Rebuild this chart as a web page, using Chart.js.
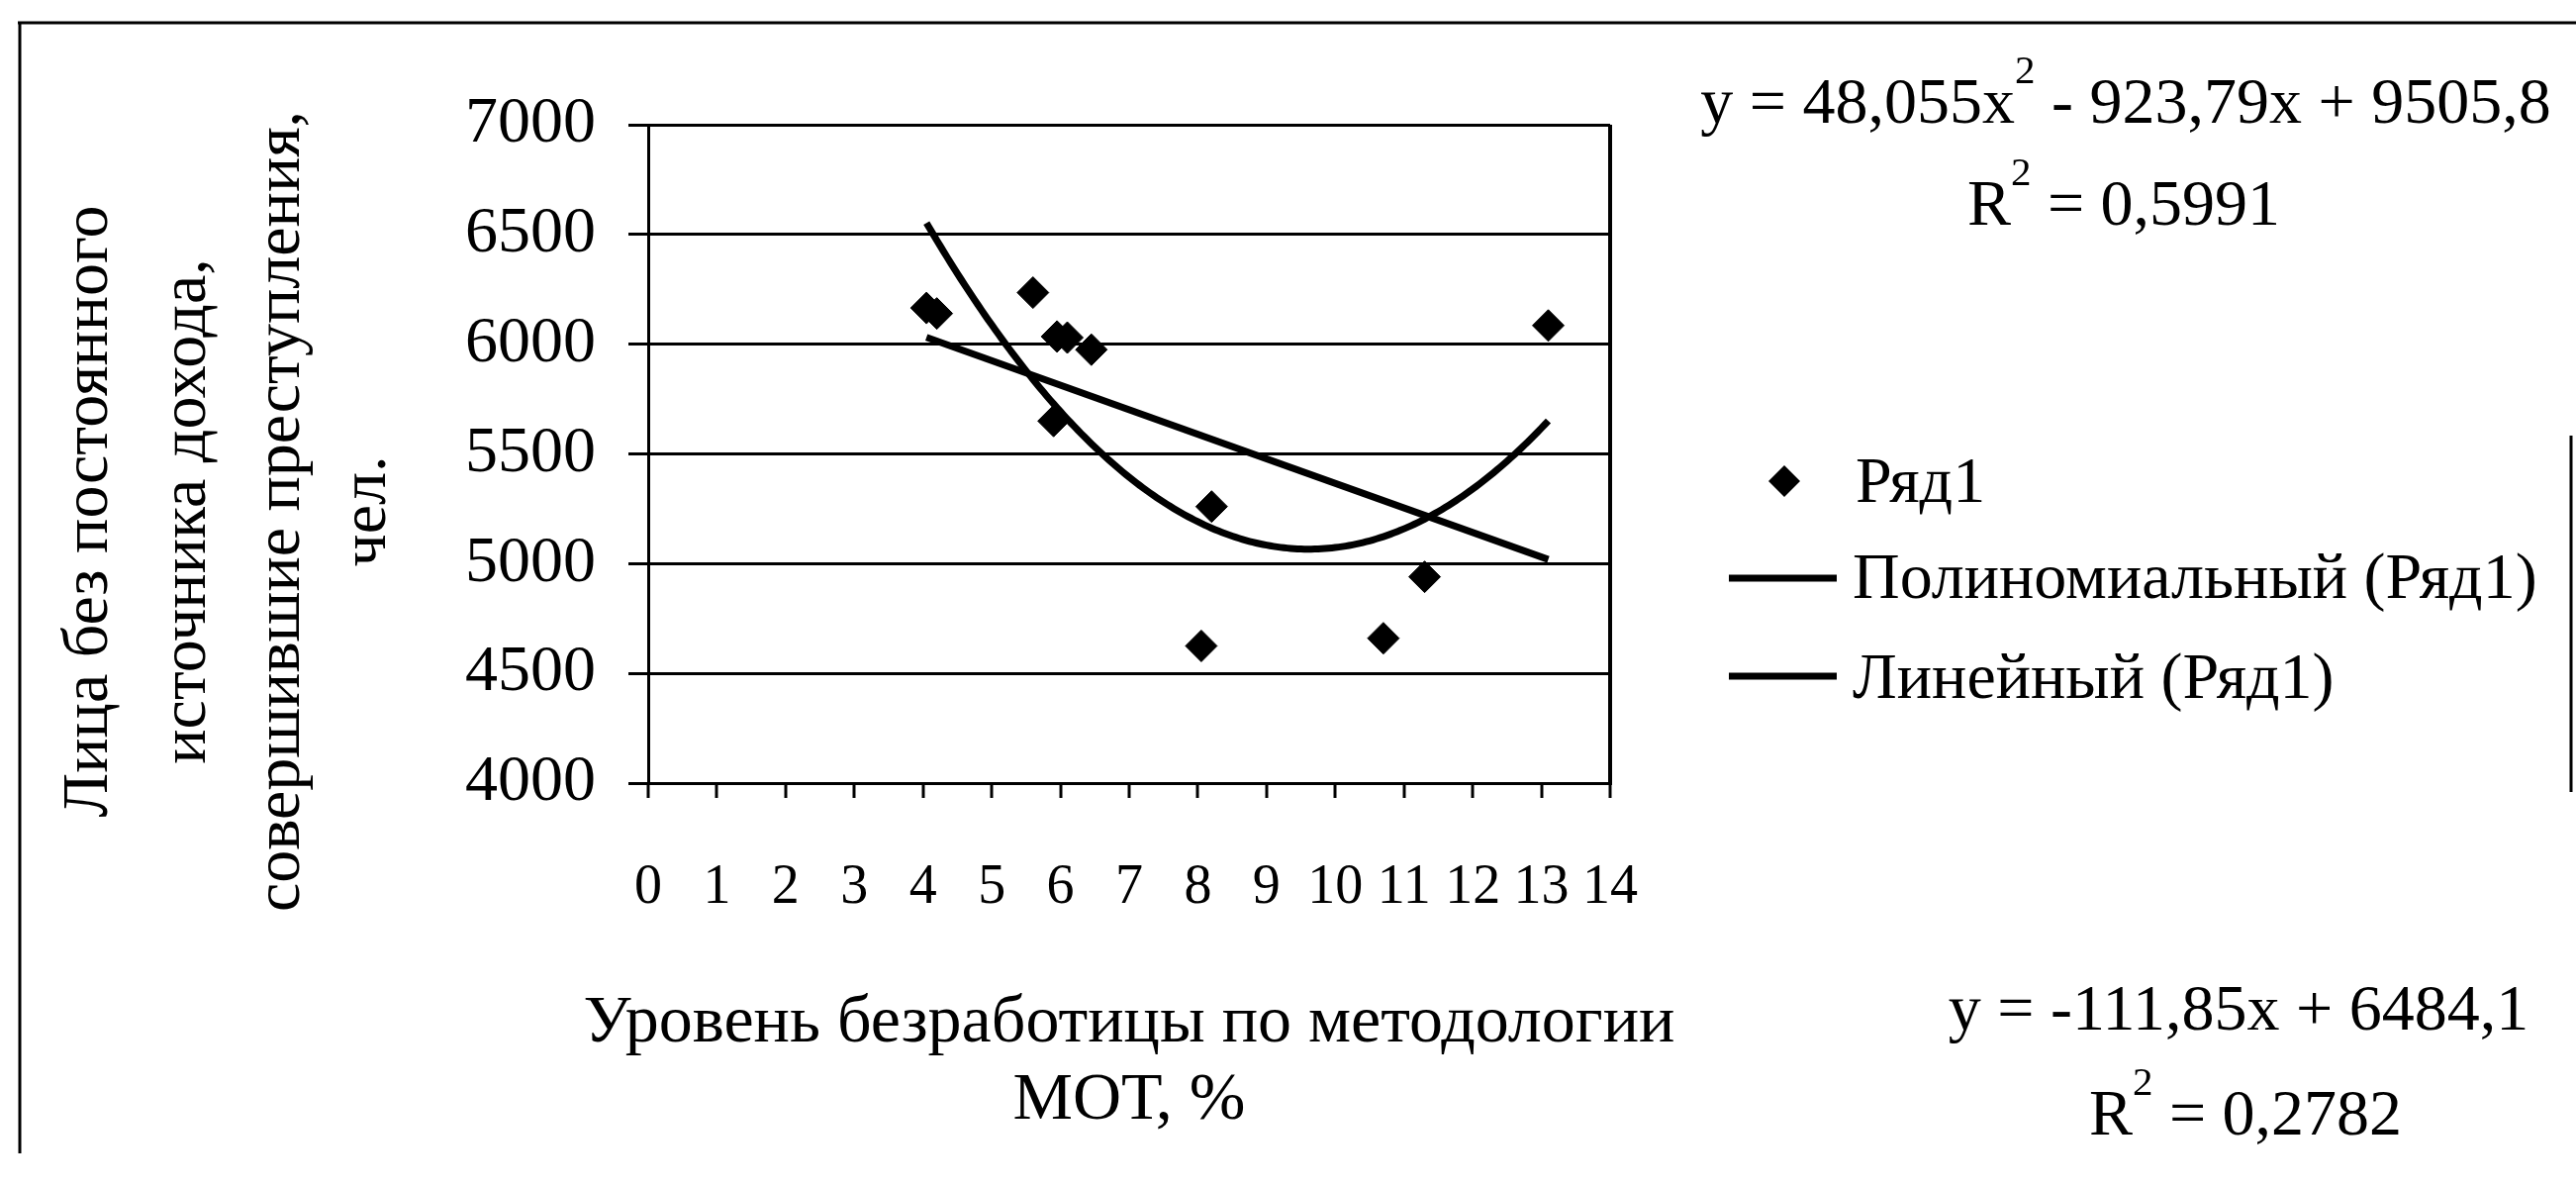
<!DOCTYPE html>
<html>
<head>
<meta charset="utf-8">
<script src="https://cdn.jsdelivr.net/npm/chart.js@4.4.1/dist/chart.umd.min.js"></script>
<style>
    html, body { margin: 0; padding: 0; background: #fff; }
</style>
</head>
<body>
<canvas id="chart" width="2603" height="1200"></canvas>
<script>
// observed points (unemployment %, persons)
const xValues = [4.05, 4.2, 5.6, 5.95, 6.1, 6.45, 5.9, 8.2, 8.05, 10.7, 11.3, 13.1];
const yValues = [6165, 6140, 6235, 6035, 6030, 5975, 5650, 5260, 4625, 4660, 4940, 6085];

// trendline equations as printed on the chart
const polyCoef = [48.055, -923.79, 9505.8];
const linCoef = [-111.85, 6484.1];
const rSquared = [0.5991, 0.2782];

const xTicks = [0, 1, 2, 3, 4, 5, 6, 7, 8, 9, 10, 11, 12, 13, 14];
const yTicks = [4000, 4500, 5000, 5500, 6000, 6500, 7000];

const legendLabels = ['Ряд1', 'Полиномиальный (Ряд1)', 'Линейный (Ряд1)'];
const yTitleLines = ['Лица без постоянного', 'источника дохода,', 'совершившие преступления,', 'чел.'];
const xTitleLines = ['Уровень безработицы по методологии', 'МОТ, %'];

const FONT = '"Liberation Serif", "Times New Roman", serif';
const fmt = (v) => String(v).replace('.', ',');

const xMin = Math.min(...xValues);
const xMax = Math.max(...xValues);

const points = xValues.map((x, i) => ({ x: x, y: yValues[i] }));

// trendlines drawn over the data range, as Excel does
const polyLine = [];
for (let x = xMin; x <= xMax + 1e-9; x += 0.05) {
    polyLine.push({ x: x, y: polyCoef[0] * x * x + polyCoef[1] * x + polyCoef[2] });
}
const linLine = [xMin, xMax].map((x) => ({ x: x, y: linCoef[0] * x + linCoef[1] }));

const drawRich = (ctx, parts, cx, baseline, size) => {
    let total = 0;
    parts.forEach((p) => {
        ctx.font = (p.sup ? Math.round(size * 0.62) : size) + 'px ' + FONT;
        p.w = ctx.measureText(p.t).width;
        total += p.w;
    });
    let x = cx - total / 2;
    parts.forEach((p) => {
        ctx.font = (p.sup ? Math.round(size * 0.62) : size) + 'px ' + FONT;
        ctx.fillText(p.t, x, p.sup ? baseline - size * 0.6 : baseline);
        x += p.w;
    });
};

const extras = {
    id: 'extras',
    afterDraw(chart) {
        const ctx = chart.ctx;
        const area = chart.chartArea;
        ctx.save();
        ctx.fillStyle = '#000';
        ctx.strokeStyle = '#000';

        // outer frame
        ctx.lineWidth = 3;
        ctx.beginPath();
        ctx.moveTo(18, 23); ctx.lineTo(2603, 23);
        ctx.moveTo(20, 23); ctx.lineTo(20, 1165);
        ctx.moveTo(2598, 440); ctx.lineTo(2598, 800);
        ctx.stroke();

        // y title
        ctx.save();
        ctx.translate(0, (area.top + area.bottom) / 2 + 58);
        ctx.rotate(-Math.PI / 2);
        ctx.font = '66px ' + FONT;
        ctx.textAlign = 'center';
        ctx.textBaseline = 'middle';
        const yCols = [91, 190, 285, 372];
        yTitleLines.forEach((t, i) => ctx.fillText(t, 0, yCols[i]));
        ctx.restore();

        // x title
        ctx.font = '68px ' + FONT;
        ctx.textAlign = 'center';
        ctx.textBaseline = 'alphabetic';
        const xMid = (area.left + area.right) / 2;
        ctx.fillText(xTitleLines[0], xMid, 1052);
        ctx.fillText(xTitleLines[1], xMid, 1130);

        // equations
        ctx.textAlign = 'left';
        drawRich(ctx, [
            { t: 'y = ' + fmt(polyCoef[0]) + 'x' },
            { t: '2', sup: true },
            { t: ' - ' + fmt(Math.abs(polyCoef[1])) + 'x + ' + fmt(polyCoef[2]) }
        ], 2148, 124, 66);
        drawRich(ctx, [{ t: 'R' }, { t: '2', sup: true }, { t: ' = ' + fmt(rSquared[0]) }], 2146, 227, 66);
        drawRich(ctx, [{ t: 'y = ' + fmt(linCoef[0]) + 'x + ' + fmt(linCoef[1]) }], 2262, 1040, 66);
        drawRich(ctx, [{ t: 'R' }, { t: '2', sup: true }, { t: ' = ' + fmt(rSquared[1]) }], 2269, 1146, 66);

        // legend
        ctx.font = '66px ' + FONT;
        ctx.textAlign = 'left';
        ctx.beginPath();
        ctx.moveTo(1803 - 16, 486); ctx.lineTo(1803, 470);
        ctx.lineTo(1803 + 16, 486); ctx.lineTo(1803, 502);
        ctx.closePath();
        ctx.fill();
        ctx.fillText(legendLabels[0], 1875, 507);
        ctx.lineWidth = 7;
        ctx.beginPath();
        ctx.moveTo(1747, 584); ctx.lineTo(1856, 584);
        ctx.moveTo(1747, 683); ctx.lineTo(1856, 683);
        ctx.stroke();
        ctx.fillText(legendLabels[1], 1872, 604);
        ctx.fillText(legendLabels[2], 1872, 705);

        ctx.restore();
    }
};

new Chart(document.getElementById('chart'), {
    type: 'scatter',
    data: {
        datasets: [
            {
                label: legendLabels[0],
                data: points,
                pointStyle: 'rectRot',
                pointRadius: 16,
                pointBackgroundColor: '#000',
                pointBorderColor: '#000',
                pointBorderWidth: 1,
                showLine: false,
            },
            {
                label: legendLabels[1],
                data: polyLine,
                showLine: true,
                borderColor: '#000',
                borderWidth: 7,
                pointRadius: 0,
                tension: 0,
            },
            {
                label: legendLabels[2],
                data: linLine,
                showLine: true,
                borderColor: '#000',
                borderWidth: 7,
                pointRadius: 0,
                tension: 0,
            },
        ]
    },
    options: {
        responsive: false,
        animation: false,
        devicePixelRatio: 1,
        layout: { padding: { left: 455, right: 976, top: 126, bottom: 209 } },
        plugins: {
            legend: { display: false },
            tooltip: { enabled: false },
        },
        scales: {
            x: {
                type: 'linear',
                min: xTicks[0],
                max: xTicks[xTicks.length - 1],
                afterBuildTicks: (axis) => { axis.ticks = xTicks.map((v) => ({ value: v })); },
                afterFit: (axis) => { axis.height = 200; },
                ticks: {
                    autoSkip: false,
                    maxRotation: 0,
                    padding: 58,
                    color: '#000',
                    font: { family: FONT, size: 56 },
                    callback: (v) => String(v),
                },
                grid: {
                    color: (c) => (c.tick && c.tick.value === 14 ? '#000' : 'rgba(0,0,0,0)'),
                    tickColor: '#000',
                    lineWidth: 4,
                    tickWidth: 3,
                    tickLength: 15,
                },
                border: { display: true, color: '#000', width: 3 },
            },
            y: {
                min: yTicks[0],
                max: yTicks[yTicks.length - 1],
                afterBuildTicks: (axis) => { axis.ticks = yTicks.map((v) => ({ value: v })); },
                afterFit: (axis) => { axis.width = 200; },
                ticks: {
                    padding: 33,
                    color: '#000',
                    font: { family: FONT, size: 66 },
                    callback: (v) => String(v),
                },
                grid: {
                    color: '#000',
                    lineWidth: 3,
                    tickLength: 20,
                },
                border: { display: true, color: '#000', width: 3 },
            },
        },
    },
    plugins: [extras],
});
</script>
</body>
</html>
